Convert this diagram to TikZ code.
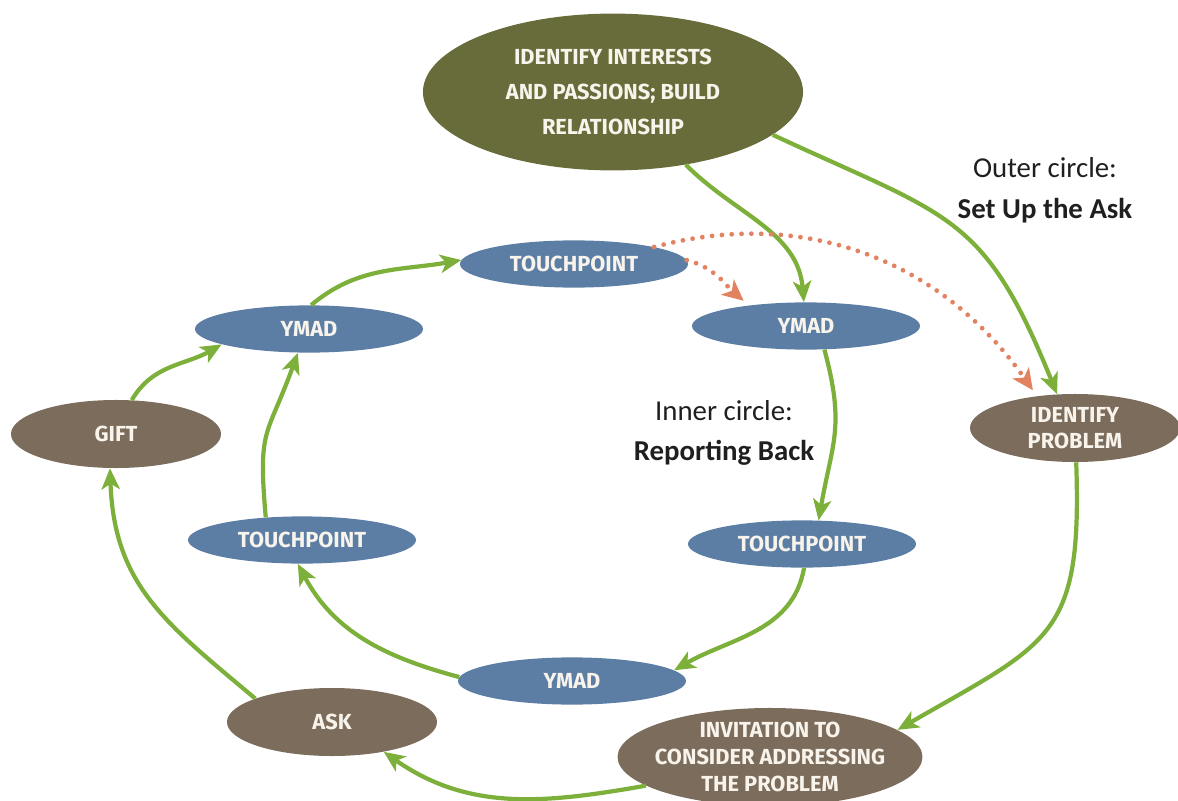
\documentclass[tikz,border=0pt]{standalone}
\usepackage{fontspec}
\setmainfont{Carlito}
\setsansfont{Fira Sans}
\usetikzlibrary{shapes.geometric, arrows.meta}

\definecolor{leaf}{RGB}{124,176,58}
\definecolor{olive}{RGB}{104,108,58}
\definecolor{slate}{RGB}{92,126,164}
\definecolor{mud}{RGB}{124,108,92}
\definecolor{salmon}{RGB}{226,130,96}
\definecolor{cream}{RGB}{248,244,236}

\begin{document}
\begin{tikzpicture}[x=0.025cm, y=0.025cm,
    oval/.style={ellipse, draw=none, inner sep=0pt, text=cream, align=center,
                 font=\sffamily\bfseries\fontsize{15.5}{19}\selectfont},
    blue oval/.style={oval, fill=slate, minimum width=5.7cm, minimum height=1.18cm},
    brown oval/.style={oval, fill=mud, minimum width=5.25cm, minimum height=1.7cm},
    leaf line/.style={every edge/.append style={draw=leaf, line width=3pt,
                      -{Stealth[length=15pt, width=13pt, inset=4pt]}}},
    dots line/.style={every edge/.append style={draw=salmon, line width=3.4pt,
                      line cap=round, dash pattern=on 0pt off 7pt,
                      -{Stealth[length=15pt, width=14pt, inset=4pt]}}},
    caption/.style={align=center, text=black!88,
                    font=\fontsize{20.5}{29}\selectfont}
]
    \useasboundingbox (0,0) rectangle (1178,-801);

    % Add the ovals
        \node[oval,
              fill=olive,
              minimum width=9.5cm,
              minimum height=3.92cm,
              font=\sffamily\bfseries\fontsize{15.5}{25}\selectfont] (IR) at (613,-92)
              {IDENTIFY INTERESTS\\AND PASSIONS; BUILD\\RELATIONSHIP};
        \node[blue oval] (TA) at (574,-264) {TOUCHPOINT};
        \node[blue oval] (YA) at (806,-326) {YMAD};
        \node[blue oval] (TB) at (802,-544) {TOUCHPOINT};
        \node[blue oval] (YB) at (572,-681) {YMAD};
        \node[blue oval] (TC) at (302,-540) {TOUCHPOINT};
        \node[blue oval] (YC) at (309,-329) {YMAD};
        \node[brown oval] (IP) at (1075,-428) {IDENTIFY\\PROBLEM};
        \node[brown oval,
              minimum width=7.62cm,
              minimum height=2.45cm,
              inner xsep=-0.5cm,
              inner ysep=-0.2cm] (IA) at (770,-757)
              {INVITATION TO\\CONSIDER ADDRESSING\\THE PROBLEM};
        \node[brown oval] (A) at (332,-722) {ASK};
        \node[brown oval] (G) at (116,-434) {GIFT};

    % Add the captions
        \node[caption] (outer) at (1045,-190) {Outer circle:\\\textbf{Set Up the Ask}};
        \node[caption] (inner) at (724,-433) {Inner circle:\\\textbf{Reporting Back}};

        \path[leaf line]
            (IR) edge[out=-45, in=95] (YA)
            (IR.-15) edge[out=-25, in=112, looseness=1.3] (IP.118)
            (IP) edge[out=-88, in=30, looseness=1.4] (IA.12)
            (IA.193) edge[out=190, in=-35] (A.-30)
            (A.163) edge[out=140, in=-88, looseness=1.1] (G.-100)
            (G.65) edge[out=60, in=210] (YC.190)
            (YC.85) edge[out=40, in=190] (TA.178)
            (YA.-52) edge[out=-75, in=80, looseness=1.2] (TB.55)
            (TB.-85) edge[out=-100, in=30] (YB.6)
            (YB.178) edge[out=165, in=-62] (TC.-100)
            (TC.148) edge[out=95, in=-110, looseness=1.4] (YC.-115);

        \path[dots line]
            (TA.2) edge[out=-15, in=140, shorten >=5pt] (YA.160)
            (TA.12) edge[out=15, in=125, shorten >=5pt] (IP.140);

\end{tikzpicture}
\end{document}
